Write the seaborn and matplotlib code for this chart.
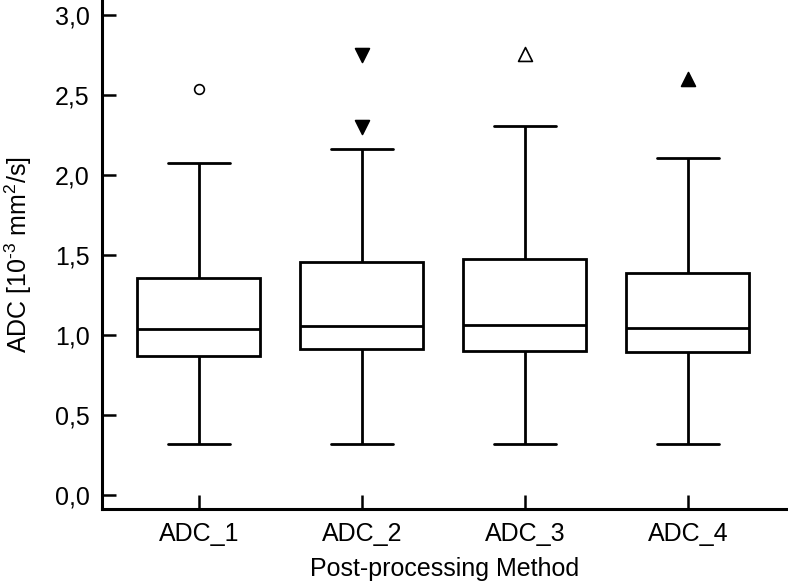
import matplotlib
matplotlib.use("Agg")
import matplotlib.pyplot as plt
import pandas as pd
import seaborn as sns
from matplotlib.ticker import FuncFormatter

categories = ["ADC_1", "ADC_2", "ADC_3", "ADC_4"]
# five-number summaries: whisker low, Q1, median, Q3, whisker high
adc_1 = [0.317, 0.869, 1.037, 1.356, 2.073]
adc_2 = [0.317, 0.912, 1.056, 1.456, 2.160]
adc_3 = [0.319, 0.902, 1.060, 1.475, 2.308]
adc_4 = [0.319, 0.894, 1.046, 1.390, 2.108]
# outliers per method
out_1 = [2.54]
out_2 = [2.30, 2.75]
out_3 = [2.755]
out_4 = [2.60]

sns.set_theme(style="ticks")
plt.rcParams["font.family"] = ["Liberation Sans", "DejaVu Sans"]
plt.rcParams["mathtext.fontset"] = "custom"
plt.rcParams["mathtext.rm"] = "Liberation Sans"
plt.rcParams["mathtext.it"] = "Liberation Sans"
plt.rcParams["axes.unicode_minus"] = False
plt.rcParams["text.color"] = "black"
plt.rcParams["axes.labelcolor"] = "black"

df = pd.DataFrame({
    "method": [c for c, v in zip(categories, [adc_1, adc_2, adc_3, adc_4]) for _ in v],
    "adc": adc_1 + adc_2 + adc_3 + adc_4,
})

fig = plt.figure(figsize=(7.88, 5.83), dpi=100)
ax = fig.add_axes([102 / 788, 74 / 583, 686 / 788, 509 / 583])

sns.boxplot(data=df, x="method", y="adc", order=categories, whis=(0, 100),
            showfliers=False, color="white", linecolor="black", linewidth=2,
            width=0.755, ax=ax)

outliers = [(out_1, "o", "white", 7), (out_2, "v", "black", 10),
            (out_3, "^", "white", 10), (out_4, "^", "black", 10)]
for cat, (vals, mk, fc, ms) in zip(categories, outliers):
    sns.stripplot(x=[cat] * len(vals), y=vals, order=categories, jitter=False,
                  marker=mk, color=fc, edgecolor="black", linewidth=1.2,
                  size=ms, ax=ax)

ax.set_xlim(-0.595, 3.615)
ax.set_ylim(-0.0875, 3.094)
ax.set_yticks([0, 0.5, 1.0, 1.5, 2.0, 2.5, 3.0])
ax.yaxis.set_major_formatter(FuncFormatter(lambda v, p: f"{v:.1f}".replace(".", ",")))

for s in ["top", "right"]:
    ax.spines[s].set_visible(False)
for s in ["left", "bottom"]:
    ax.spines[s].set_linewidth(2.2)
    ax.spines[s].set_color("black")

ax.tick_params(axis="both", direction="in", length=10, width=1.8, colors="black",
               labelsize=18, pad=9)
ax.set_xlabel("Post-processing Method", fontsize=18, labelpad=8)
ax.set_ylabel(r"ADC [10$^{\text{-}3}$ mm$^{2}$/s]", fontsize=18, labelpad=15)

fig.savefig("out.png", dpi=100)
